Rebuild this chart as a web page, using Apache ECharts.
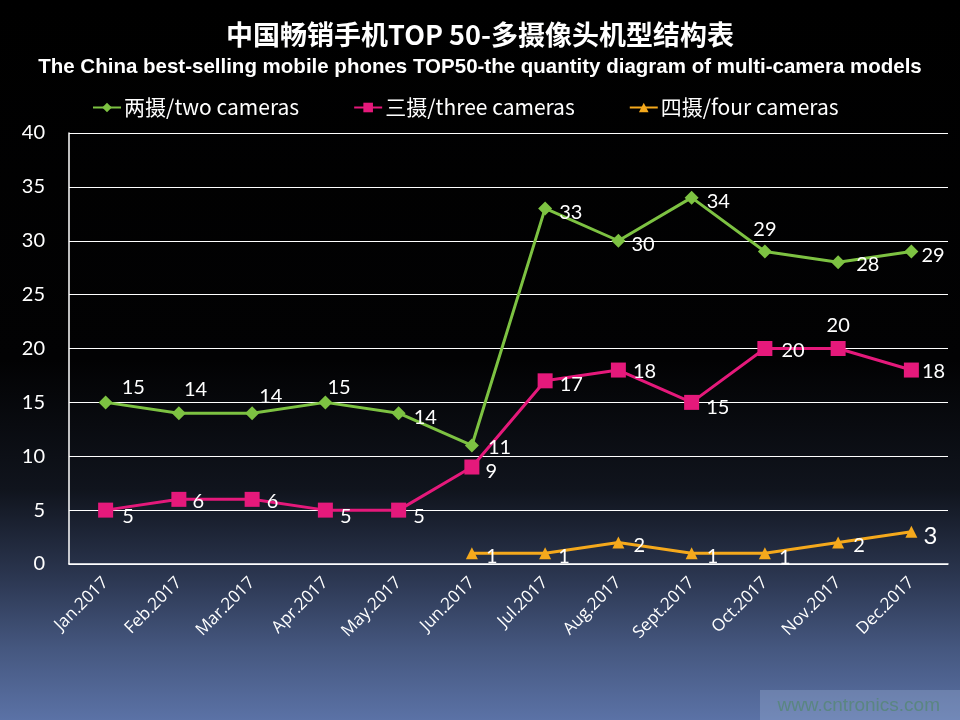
<!DOCTYPE html>
<html><head><meta charset="utf-8">
<script src="https://cdn.jsdelivr.net/npm/echarts@6/dist/echarts.min.js"></script>
<style>html,body{margin:0;padding:0;background:#000}#c{width:960px;height:720px}</style>
</head><body><div id="c"></div>
<script>
const months = ['Jan.2017','Feb.2017','Mar.2017','Apr.2017','May.2017','Jun.2017','Jul.2017','Aug.2017','Sept.2017','Oct.2017','Nov.2017','Dec.2017'];
const seriesNames = ['两摄/two cameras','三摄/three cameras','四摄/four cameras'];
const twoCameras = [15,14,14,15,14,11,33,30,34,29,28,29];
const threeCameras = [5,6,6,5,5,9,17,18,15,20,20,18];
const fourCameras = [null,null,null,null,null,1,1,2,1,1,2,3];
const yTicks = [0,5,10,15,20,25,30,35,40];

// label placement (styling only): [position, dx, dy]
const twoLabelPlace = [['right',4,-15],['right',-7,-24],['right',-5,-17],['right',-10,-15],['right',3,4],['right',4,2],['right',2,4],['right',1,4],['right',3,4],['top',0,0],['right',6,2],['right',-2,4]];
const threeLabelPlace = [['right',4,6],['right',1,2],['right',2,2],['right',2,6],['right',2,6],['right',1,5],['right',2,4],['right',2,1],['right',2,5],['right',4,2],['top',0,0],['right',-2,1]];
const fourLabelPlace = [null,null,null,null,null,['right',3,3],['right',2,3],['right',4,3],['right',4,3],['right',3,4],['right',4,3],['right',1,5]];

const LBL = {color:'#fff', fontFamily:'Lato', fontSize:20};
function mk(vals, place, big){
  return vals.map((v,i)=>{
    if(v===null) return null;
    const p = place[i];
    const lab = Object.assign({show:true, position:p[0], offset:[p[1],p[2]], distance:5}, LBL);
    if(big && i===vals.length-1) lab.fontSize = 24;
    return {value:v, label:lab};
  });
}

const chart = echarts.init(document.getElementById('c'), null, {renderer:'canvas'});
chart.setOption({
  animation:false,
  backgroundColor:{type:'linear',x:0,y:0,x2:0,y2:1,colorStops:[
    {offset:0,color:'#000000'},{offset:0.5,color:'#020203'},{offset:0.68,color:'#10141d'},
    {offset:0.8,color:'#2b3650'},{offset:0.9,color:'#45577f'},{offset:1,color:'#5b72a6'}]},
  title:[
    {text:'中国畅销手机TOP 50-多摄像头机型结构表', left:'center', top:16,
     textStyle:{color:'#fff', fontSize:27, fontWeight:'bold', fontFamily:'Noto Sans CJK SC'}},
    {text:'The China best-selling mobile phones TOP50-the quantity diagram of multi-camera models', left:'center', top:52,
     textStyle:{color:'#fff', fontSize:20.5, fontWeight:'bold', fontFamily:'Liberation Sans'}}
  ],
  legend:{left:87, top:92, itemWidth:28, itemHeight:12, itemGap:54,
    textStyle:{color:'#fff', fontSize:21, fontFamily:'Noto Sans CJK SC', padding:[0,0,0,-2]},
    data:seriesNames},
  grid:{left:69, right:12, top:133, bottom:156},
  xAxis:{type:'category', data:months, boundaryGap:true,
    axisLine:{lineStyle:{color:'#fff', width:1.5}}, axisTick:{show:false},
    axisLabel:{color:'#fff', rotate:45, fontSize:17, fontFamily:'Open Sans', margin:16}},
  yAxis:{type:'value', min:yTicks[0], max:yTicks[yTicks.length-1], interval:5,
    axisLine:{show:true, lineStyle:{color:'#fff', width:1.5}}, axisTick:{show:false},
    splitLine:{lineStyle:{color:'#fff', width:1.2}},
    axisLabel:{color:'#fff', fontSize:20, fontFamily:'Lato', margin:24}},
  series:[
    {name:seriesNames[0], type:'line', data:mk(twoCameras, twoLabelPlace), symbol:'diamond', symbolSize:14,
     itemStyle:{color:'#7dc242'}, lineStyle:{color:'#7dc242', width:3}},
    {name:seriesNames[1], type:'line', data:mk(threeCameras, threeLabelPlace), symbol:'rect', symbolSize:15,
     itemStyle:{color:'#e5197b'}, lineStyle:{color:'#e5197b', width:3}},
    {name:seriesNames[2], type:'line', data:mk(fourCameras, fourLabelPlace, true), symbol:'triangle', symbolSize:12,
     itemStyle:{color:'#f5a91c'}, lineStyle:{color:'#f5a91c', width:3}}
  ],
  graphic:[
    {type:'rect', right:0, bottom:0, shape:{width:200, height:30}, style:{fill:'rgba(170,190,225,0.3)'}},
    {type:'text', right:20, bottom:5, style:{text:'www.cntronics.com', fill:'#5a8682', fontSize:19, fontFamily:'Liberation Sans'}}
  ]
});
</script></body></html>
